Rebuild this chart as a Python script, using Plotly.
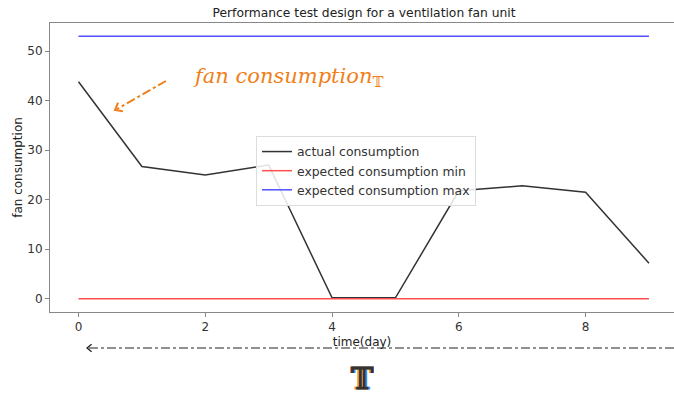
import math
import plotly.graph_objects as go

# ---- data ----
days = [0, 1, 2, 3, 4, 5, 6, 7, 8, 9]
actual_consumption = [43.8, 26.7, 25.0, 27.0, 0.2, 0.2, 21.8, 22.8, 21.5, 7.2]
expected_min = [0, 0, 0, 0, 0, 0, 0, 0, 0, 0]
expected_max = [53, 53, 53, 53, 53, 53, 53, 53, 53, 53]
x_ticks = [0, 2, 4, 6, 8]
y_ticks = [0, 10, 20, 30, 40, 50]

W, H = 674, 394
L, R, T, B = 50, 0, 23, 82
pw, ph = W - L - R, H - T - B


def px(x):
    return (x - L) / pw


def py(y):
    return (H - B - y) / ph


def chevron(hx, hy, tx, ty, size=8, ang=35):
    """path for an open arrowhead at (hx,hy) pointing away from (tx,ty), pixel coords"""
    dx, dy = tx - hx, ty - hy
    n = math.hypot(dx, dy)
    dx, dy = dx / n, dy / n
    pts = []
    for s in (1, -1):
        a = math.radians(ang) * s
        rx = dx * math.cos(a) - dy * math.sin(a)
        ry = dx * math.sin(a) + dy * math.cos(a)
        pts.append((hx + rx * size, hy + ry * size))
    (ax_, ay_), (bx_, by_) = pts
    return (f"M{px(ax_)},{py(ay_)} L{px(hx)},{py(hy)} L{px(bx_)},{py(by_)}")


fig = go.Figure()
fig.add_trace(go.Scatter(x=days, y=actual_consumption, mode="lines",
                         name="actual consumption",
                         line=dict(color="#333333", width=1.5)))
fig.add_trace(go.Scatter(x=days, y=expected_min, mode="lines",
                         name="expected consumption min",
                         line=dict(color="#ff5050", width=1.5)))
fig.add_trace(go.Scatter(x=days, y=expected_max, mode="lines",
                         name="expected consumption max",
                         line=dict(color="#5050ff", width=1.5)))

font = "DejaVu Sans"
fig.update_layout(
    width=W, height=H,
    margin=dict(l=L, r=R, t=T, b=B),
    paper_bgcolor="white", plot_bgcolor="white",
    font=dict(family=font, size=12, color="#333"),
    title=dict(text="Performance test design for a ventilation fan unit",
               x=364 / W, xanchor="center", y=1 - 13 / H, yanchor="middle",
               font=dict(family=font, size=12.3, color="#222")),
    showlegend=True,
    legend=dict(x=px(256), y=py(136), xanchor="left", yanchor="top",
                bgcolor="rgba(255,255,255,0.85)", bordercolor="#dddddd",
                borderwidth=1, font=dict(family=font, size=12.4, color="#333"),
                tracegroupgap=0, itemwidth=30),
)
fig.update_xaxes(range=[-0.45, 9.395], tickvals=x_ticks,
                 ticktext=[str(v) for v in x_ticks],
                 showgrid=False, zeroline=False, showline=True,
                 linecolor="#888", linewidth=1, mirror=True,
                 ticks="outside", ticklen=4, tickcolor="#888",
                 tickfont=dict(size=12, color="#333"), automargin=False,
                 title=dict(text="time(day)", standoff=4,
                            font=dict(size=12, color="#222")))
fig.update_yaxes(range=[-2.65, 55.65], tickvals=y_ticks,
                 ticktext=[str(v) for v in y_ticks],
                 showgrid=False, zeroline=False, showline=True,
                 linecolor="#888", linewidth=1, mirror=False,
                 ticks="outside", ticklen=4, tickcolor="#888",
                 tickfont=dict(size=12, color="#333"), automargin=False,
                 title=dict(text="fan consumption", standoff=2,
                            font=dict(size=12, color="#222")))

orange = "#f07f1a"
# orange label
fig.add_annotation(xref="paper", yref="paper", x=px(288), y=py(77),
                   xanchor="center", yanchor="middle",
                   text="<i>fan consumption</i><sub>𝕋</sub>", showarrow=False,
                   font=dict(family="DejaVu Serif", size=21, color=orange))
# orange dash-dot arrow
fig.add_shape(type="line", xref="paper", yref="paper",
              x0=px(166), y0=py(81), x1=px(117), y1=py(109),
              line=dict(color=orange, width=2, dash="dashdot"))
fig.add_shape(type="path", xref="paper", yref="paper",
              path=chevron(115, 110, 166, 81, size=8, ang=38),
              line=dict(color=orange, width=2))
# bottom dash-dot arrow
fig.add_shape(type="line", xref="paper", yref="paper",
              x0=px(674), y0=py(348), x1=px(88), y1=py(348),
              line=dict(color="#222", width=1.2, dash="dashdot"))
fig.add_shape(type="path", xref="paper", yref="paper",
              path=chevron(87, 348, 674, 348, size=6, ang=40),
              line=dict(color="#222", width=1.3))
# big double-struck T with colour fringes (text shadow)
fig.add_annotation(xref="paper", yref="paper", x=px(362), y=py(378),
                   xanchor="center", yanchor="middle", height=28,
                   text="<b>𝕋</b>", showarrow=False,
                   font=dict(family="DejaVu Serif", size=30, color="#333",
                             shadow="-1.5px 0px 0px #f5a040, 1.5px 0px 0px #3a8ee0"))

fig.write_html("out.html", config={"displayModeBar": False},
               post_script="document.body.style.margin='0';"
                           "document.body.style.overflow='hidden';")
